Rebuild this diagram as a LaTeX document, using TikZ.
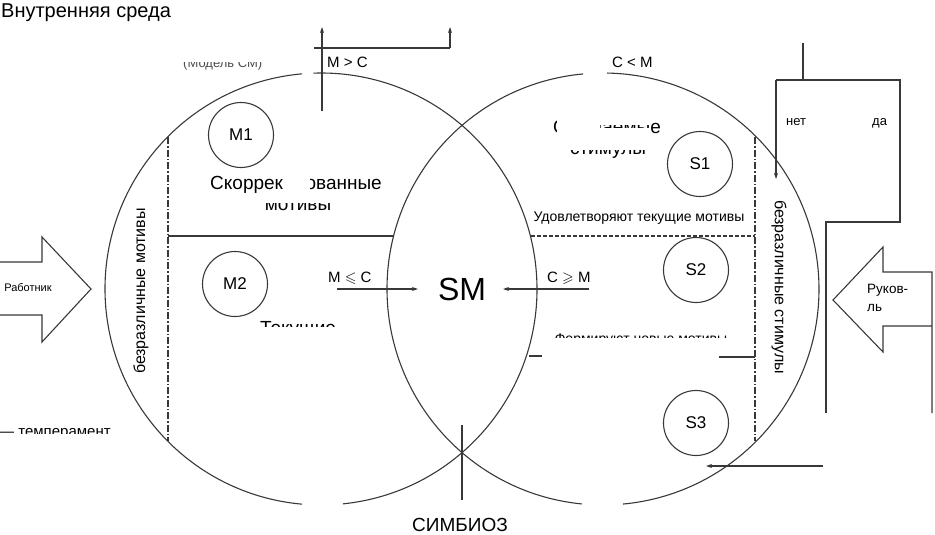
\documentclass[tikz,border=0pt]{standalone}
\usepackage{fontspec}
\setmainfont{Liberation Sans}
\usepackage{amssymb}
\usetikzlibrary{arrows.meta}
\newcommand\fsz[1]{\fontsize{#1}{#1}\selectfont}
\begin{document}
\begin{tikzpicture}[x=1pt,y=-1pt,
  ln/.style={draw=black!78,line width=1.1pt},
  arr/.style={ln,-{Stealth[length=6pt,width=4pt]}},
  dd/.style={ln,dash pattern=on 7pt off 2pt on 1.5pt off 2pt},
  dsh/.style={ln,dash pattern=on 4pt off 2pt},
  sm/.style={circle,draw=black!78,line width=1.1pt,minimum size=65pt,inner sep=0pt,font=\fsz{17}},
  txt/.style={inner sep=0pt,text=black},
]
\useasboundingbox (0,0) rectangle (935,535);
% big circles
\coordinate (L) at (321,289);
\coordinate (R) at (603,289);
\draw[ln] ([shift={(-95:216)}]L) arc[start angle=-95,end angle=-265,radius=216];
\draw[ln] ([shift={(-275.8:216)}]L) arc[start angle=-275.8,end angle=-452,radius=216];
\draw[ln] ([shift={(-95.3:216)}]R) arc[start angle=-95.3,end angle=-264.4,radius=216];
\draw[ln] ([shift={(-275.3:216)}]R) arc[start angle=-275.3,end angle=-448.9,radius=216];

% title
\node[txt,anchor=base west,font=\fsz{20}] (title) at (1,18) {Внутренняя среда};

% top arrows
\coordinate (ta1) at (322,111);
\coordinate (ta1e) at (322,27);
\coordinate (tb0) at (314,48);
\coordinate (tb1) at (450,48);
\coordinate (tb1e) at (450,27);
\draw[arr] (ta1) -- (ta1e);
\draw[ln] (tb0) -- (tb1);
\draw[arr] (tb1) -- (tb1e);
\node[txt,anchor=base west,font=\fsz{15}] (mgc) at (327,68) {M > C};
\node[txt,anchor=base west,font=\fsz{15}] (clm) at (612,68) {C < M};
\begin{scope}
\clip (180,62.5) rectangle (270,72);
\node[txt,anchor=base west,font=\fsz{13},text=black!70] (model) at (183,67) {(Модель СМ)};
\end{scope}

% dividers
\coordinate (dl1) at (168,137);
\coordinate (dl2) at (168,441);
\coordinate (dr1) at (755,137);
\coordinate (dr2) at (755,441);
\draw[dd] (dl1) -- (dl2);
\draw[dd] (dr1) -- (dr2);
\coordinate (hl1) at (168,236);
\coordinate (hl2) at (393,236);
\draw[ln] (hl1) -- (hl2);
\coordinate (hr1) at (531,236);
\coordinate (hr2) at (755,236);
\draw[dsh] (hr1) -- (hr2);

% small circles
\node[sm] (M1) at (241,135) {M1};
\node[sm] (M2) at (235,284) {M2};
\node[sm] (S1) at (700,164) {S1};
\node[sm] (S2) at (696,270) {S2};
\node[sm] (S3) at (696,423) {S3};

% left texts
\node[txt,anchor=base west,font=\fsz{19}] (sk1) at (210,189) {Скоррек};
\begin{scope}
\clip (310,170) rectangle (390,195);
\node[txt,anchor=base east,font=\fsz{19}] (sk2) at (382,189) {ованные};
\end{scope}
\begin{scope}
\clip (250,203.5) rectangle (350,215);
\node[txt,anchor=base,font=\fsz{19}] (mot) at (298,210) {мотивы};
\end{scope}
\begin{scope}
\clip (250,315) rectangle (350,326.5);
\node[txt,anchor=base,font=\fsz{19}] (tek) at (298,334.6) {Текущие};
\end{scope}
\node[txt,rotate=90,font=\fsz{16}] (bzm) at (141,291) {безразличные мотивы};

% right texts
\begin{scope}
\clip (550,118) rectangle (556,136) (600,124.5) rectangle (648,127) (649,115) rectangle (665,136);
\node[txt,anchor=base,font=\fsz{19}] (ozh) at (607,133) {Ожидаемые};
\end{scope}
\begin{scope}
\clip (560,150.5) rectangle (660,160);
\node[txt,anchor=base,font=\fsz{19}] (stim) at (608,154) {стимулы};
\end{scope}
\node[txt,anchor=base,font=\fsz{14}] (udo) at (639,221) {Удовлетворяют текущие мотивы};
\begin{scope}
\clip (550,325) rectangle (730,337.5);
\node[txt,anchor=base,font=\fsz{14}] (form) at (641,343) {Формируют новые мотивы};
\end{scope}
\node[txt,rotate=-90,font=\fsz{16}] (bzs) at (779,287) {безразличные стимулы};

% SM and arrows
\node[txt,font=\fsz{32}] (SM) at (462,289) {SM};
\node[txt,anchor=base west,font=\fsz{15}] (mlc) at (328,282) {M $\leqslant$ C};
\node[txt,anchor=base west,font=\fsz{15}] (cgm) at (547,282) {C $\geqslant$ M};
\coordinate (a1s) at (337,289);
\coordinate (a1e) at (418,289);
\coordinate (a2s) at (589,289);
\coordinate (a2e) at (503,289);
\draw[arr] (a1s) -- (a1e);
\draw[arr] (a2s) -- (a2e);

% left block arrow
\draw[ln] (0,262) -- (42,262) -- (42,237) -- (91,289) -- (42,342) -- (42,315) -- (0,315);
\node[txt,font=\fsz{11}] (rab) at (28,288) {Работник};

% right structure
\coordinate (rt0) at (803,43);
\coordinate (rt1) at (803,80);
\draw[ln] (rt0) -- (rt1);
\coordinate (rbl) at (776,80);
\coordinate (rbr) at (900,80);
\coordinate (rbd) at (900,222);
\coordinate (rbx) at (826,222);
\coordinate (rby) at (826,413);
\draw[ln] (rbl) -- (rbr) -- (rbd) -- (rbx) -- (rby);
\coordinate (rbe) at (776,179);
\draw[arr] (rbl) -- (rbe);
\node[txt,anchor=base west,font=\fsz{13}] (net) at (786,125) {нет};
\node[txt,anchor=base west,font=\fsz{13}] (da) at (872,125) {да};

% right block arrow
\draw[ln] (932,413) -- (932,272) -- (883,272) -- (883,247) -- (833,300) -- (883,352) -- (883,326) -- (932,326);
\node[txt,anchor=north west,align=left,font=\fsz{13.5},execute at begin node={\setlength{\baselineskip}{18pt}}] (ruk) at (867,284.3) {Руков-\\ль};

% small lines
\coordinate (sl1) at (719,357);
\coordinate (sl2) at (755,357);
\draw[ln] (sl1) -- (sl2);
\coordinate (sl3) at (529,356);
\coordinate (sl4) at (542,356);
\draw[ln] (sl3) -- (sl4);

% bottom
\coordinate (ba1) at (823,466);
\coordinate (ba2) at (706,466);
\draw[arr] (ba1) -- (ba2);
\coordinate (bv1) at (462,425);
\coordinate (bv2) at (462,500);
\draw[ln] (bv1) -- (bv2);
\node[txt,anchor=base,font=\fsz{19}] (simb) at (460,531) {СИМБИОЗ};
\begin{scope}
\clip (-1,420) rectangle (120,433);
\node[txt,anchor=base west,font=\fsz{15}] (temp) at (-1,436) {— темперамент};
\end{scope}
\end{tikzpicture}
\end{document}
